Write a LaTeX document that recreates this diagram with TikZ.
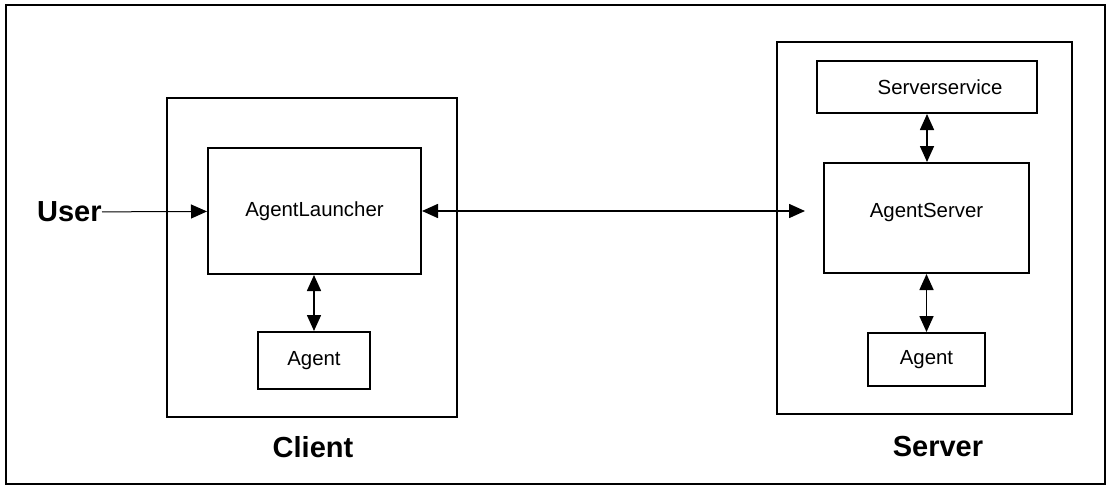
\documentclass[tikz,border=0pt]{standalone}
\usepackage{fontspec}
\setmainfont{Liberation Sans}
\usetikzlibrary{arrows.meta, positioning}

\begin{document}
\begin{tikzpicture}[x=0.5pt, y=-0.5pt,
    box/.style={rectangle, draw, line width=1pt, inner sep=0pt, align=center, font=\fontsize{10.2}{12}\selectfont},
    group/.style={box},
    title/.style={font=\fontsize{14.5}{17}\selectfont\bfseries, inner sep=0pt},
    arr/.style={-{Triangle[length=8pt, width=7pt]}, line width=0.8pt},
    biarr/.style={{Triangle[length=8pt, width=7pt]}-{Triangle[length=8pt, width=7pt]}, line width=0.8pt}
]
    \useasboundingbox (0,0) rectangle (1108,487);
    \draw[line width=1pt] (6,5) rectangle (1105,484);

    % Client side
    \node[group, minimum width=145pt, minimum height=159.5pt] (client) at (312,257.5) {};
    \node[box, minimum width=106.5pt, minimum height=63pt] (launcher) at (314.5,211) {AgentLauncher};
    \node[box, minimum width=56pt, minimum height=28.5pt] (cagent) at (314,360.5) {Agent};
    \node[title] (clientlbl) at (313,447) {Client};
    \node[title, anchor=east] (user) at (102,212) {User};

    % Server side
    \node[group, minimum width=147.5pt, minimum height=186pt] (server) at (924.5,228) {};
    \node[box, minimum width=110pt, minimum height=26pt] (sservice) at (927,87) {\hspace{13pt}Serverservice};
    \node[box, minimum width=102.5pt, minimum height=55pt, text depth=8pt] (aserver) at (926.5,218) {AgentServer};
    \node[box, minimum width=58.5pt, minimum height=26.5pt] (sagent) at (926.5,359.5) {Agent};
    \node[title] (serverlbl) at (938,447) {Server};

    \coordinate (link) at (805,211);

    \draw[arr, line width=0.5pt] (user) -- (launcher);
    \draw[biarr] (launcher.east) -- (link);
    \draw[biarr] (launcher.south -| cagent.north) -- (cagent.north);
    \draw[biarr] (sservice.south) -- (aserver.north -| sservice.south);
    \draw[biarr] (aserver.south) -- (sagent.north);
\end{tikzpicture}
\end{document}
